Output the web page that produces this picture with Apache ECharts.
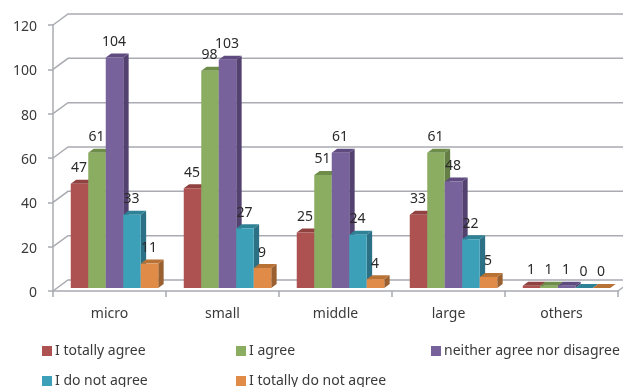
<!DOCTYPE html>
<html>
<head>
<meta charset="utf-8">
<style>html,body{margin:0;padding:0;background:#fff}#chart{width:623px;height:387px}</style>
<script src="https://cdn.jsdelivr.net/npm/echarts@6/dist/echarts.min.js"></script>
</head>
<body>
<div id="chart"></div>
<script>
// Survey answers by company size
const categories = ['micro', 'small', 'middle', 'large', 'others'];
const yTicks = [0, 20, 40, 60, 80, 100, 120];
const totallyAgree = [47, 45, 25, 33, 1];
const agree = [61, 98, 51, 61, 1];
const neither = [104, 103, 61, 48, 1];
const doNotAgree = [33, 27, 24, 22, 0];
const totallyDoNotAgree = [11, 9, 4, 5, 0];

const FONT = '"Noto Sans", sans-serif';
const TEXT = '#3a3a3a';
const WALL = '#a9abb1';

// Oblique offsets of the pseudo-3D box and of the bars inside it
const WALL_DX = 15, WALL_DY = 11;
const BAR_DX = 5.4, BAR_DY = 4;
const BAR_SHIFT_X = 5, BAR_SHIFT_Y = 3;
const BAR_W = 17.5;

const palettes = [
  { front: '#ad5250', top: '#8f4240', side: '#7b3a38' },
  { front: '#8bad62', top: '#6e8c4a', side: '#647e46' },
  { front: '#78629c', top: '#5f4b80', side: '#534170' },
  { front: '#3ca0b8', top: '#2f8196', side: '#2b7084' },
  { front: '#e08b48', top: '#b87236', side: '#9a6030' }
];

function barSeries(name, values, index) {
  const c = palettes[index];
  return {
    name,
    type: 'custom',
    coordinateSystem: 'cartesian2d',
    z: 10 + index,
    itemStyle: { color: c.front },
    data: values.map((v, i) => [i, v]),
    renderItem(params, api) {
      const cat = api.value(0), val = api.value(1);
      const top = api.coord([cat, val]);
      const base = api.coord([cat, 0]);
      const x0 = top[0] + BAR_SHIFT_X + (index - 2.5) * BAR_W;
      const x1 = x0 + BAR_W;
      const yT = top[1] - BAR_SHIFT_Y;
      const yB = base[1] - BAR_SHIFT_Y;
      const poly = (points, fill) => ({
        type: 'polygon',
        shape: { points },
        style: { fill, stroke: null }
      });
      return {
        type: 'group',
        children: [
          poly([[x1, yT], [x1 + BAR_DX, yT - BAR_DY], [x1 + BAR_DX, yB - BAR_DY], [x1, yB]], c.side),
          poly([[x0, yT], [x0 + BAR_DX, yT - BAR_DY], [x1 + BAR_DX, yT - BAR_DY], [x1, yT]], c.top),
          poly([[x0, yT], [x1, yT], [x1, yB], [x0, yB]], c.front),
          {
            type: 'text',
            z2: 50,
            style: {
              text: String(val),
              x: (x0 + x1) / 2 - 0.5,
              y: yT - 15.5,
              align: 'center',
              verticalAlign: 'middle',
              font: '14px ' + FONT,
              fill: '#2a2a2a'
            }
          }
        ]
      };
    }
  };
}

// Back wall gridlines with their slanted run along the side wall
const wallSeries = {
  type: 'custom',
  coordinateSystem: 'cartesian2d',
  z: 1,
  silent: true,
  data: yTicks.map(v => [0, v]),
  renderItem(params, api) {
    const p = api.coord([0, api.value(1)]);
    const left = params.coordSys.x;
    const right = left + params.coordSys.width;
    return {
      type: 'polyline',
      shape: { points: [[left, p[1]], [left + WALL_DX, p[1] - WALL_DY], [right + WALL_DX, p[1] - WALL_DY]] },
      style: { fill: null, stroke: WALL, lineWidth: 1.5 }
    };
  }
};

// Right-hand edge of the floor
const floorEdge = {
  type: 'custom',
  coordinateSystem: 'cartesian2d',
  z: 1,
  silent: true,
  data: [[0, 0]],
  renderItem(params, api) {
    const p = api.coord([0, 0]);
    const right = params.coordSys.x + params.coordSys.width;
    return {
      type: 'line',
      shape: { x1: right, y1: p[1], x2: right + WALL_DX, y2: p[1] - WALL_DY },
      style: { stroke: WALL, lineWidth: 1.5 }
    };
  }
};

const legendBase = {
  orient: 'vertical',
  top: 344,
  height: 60,
  icon: 'rect',
  itemWidth: 10,
  itemHeight: 10,
  itemGap: 16,
  padding: 0,
  textStyle: { fontFamily: FONT, fontSize: 14, lineHeight: 14, color: TEXT, padding: [0, 0, 0, -2] }
};

const option = {
  animation: false,
  backgroundColor: '#fff',
  grid: { left: 53, right: 5, top: 25, bottom: 96 },
  legend: [
    { ...legendBase, left: 42, data: ['I totally agree', 'I do not agree'] },
    { ...legendBase, left: 236, data: ['I agree', 'I totally do not agree'] },
    { ...legendBase, left: 431, data: ['neither agree nor disagree'] }
  ],
  xAxis: {
    type: 'category',
    data: categories,
    axisLine: { lineStyle: { color: WALL, width: 1.5 } },
    axisTick: { show: true, length: 6, lineStyle: { color: WALL, width: 1.5 } },
    axisLabel: { margin: 16, fontFamily: FONT, fontSize: 14, color: TEXT },
    splitLine: { show: false }
  },
  yAxis: {
    type: 'value',
    min: 0,
    max: 120,
    interval: 20,
    axisLine: { show: true, lineStyle: { color: WALL, width: 1.5 } },
    axisTick: { show: true, length: 5, lineStyle: { color: WALL, width: 1.5 } },
    axisLabel: {
      margin: 16,
      formatter: '{t|{value}}',
      rich: { t: { fontFamily: FONT, fontSize: 14, color: TEXT, padding: [4, 0, 0, 0] } }
    },
    splitLine: { show: false }
  },
  series: [
    wallSeries,
    floorEdge,
    barSeries('I totally agree', totallyAgree, 0),
    barSeries('I agree', agree, 1),
    barSeries('neither agree nor disagree', neither, 2),
    barSeries('I do not agree', doNotAgree, 3),
    barSeries('I totally do not agree', totallyDoNotAgree, 4)
  ]
};

echarts.init(document.getElementById('chart'), null, { renderer: 'canvas' }).setOption(option);
</script>
</body>
</html>
